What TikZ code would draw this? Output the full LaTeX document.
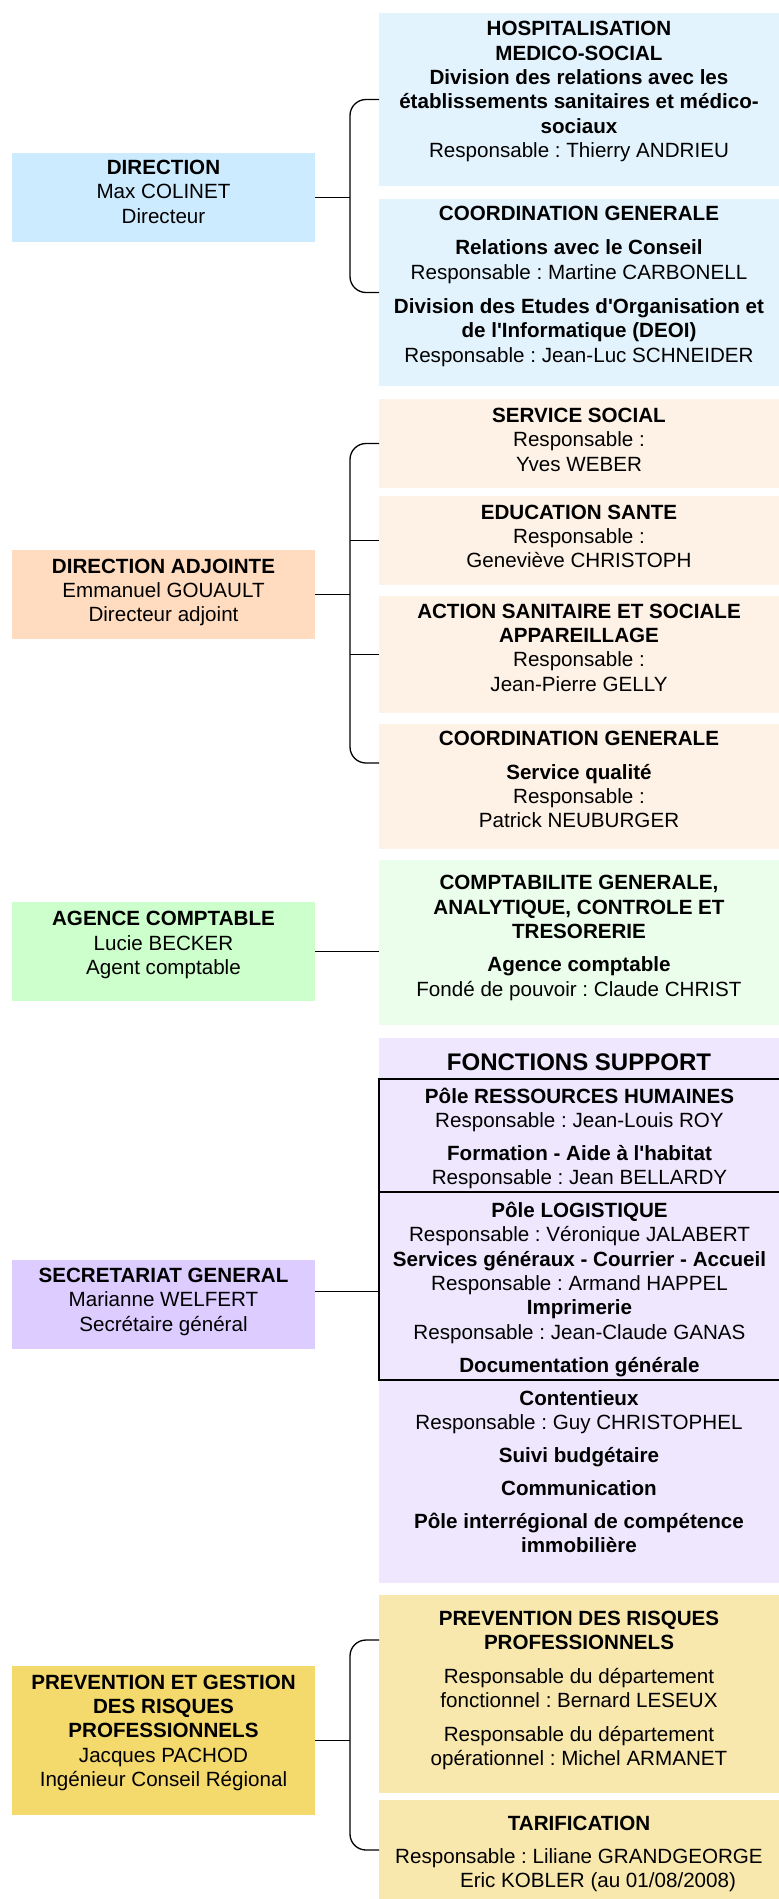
\documentclass[tikz,border=0pt]{standalone}
\usepackage{fontspec}
\newfontfamily\orgfont{Liberation Sans}
\usetikzlibrary{positioning}

\definecolor{dirL}{HTML}{CCEBFF}
\definecolor{dirR}{HTML}{E3F3FE}
\definecolor{adjL}{HTML}{FFDCBF}
\definecolor{adjR}{HTML}{FEF1E6}
\definecolor{cptL}{HTML}{CCFFCC}
\definecolor{cptR}{HTML}{EBFDEB}
\definecolor{secL}{HTML}{DCCCFF}
\definecolor{secR}{HTML}{EEE7FE}
\definecolor{prvL}{HTML}{F4D96C}
\definecolor{prvR}{HTML}{F8E8AE}

\newcommand{\boxtext}[3]{\parbox[c][#2pt][t]{#1pt}{\centering\strut #3}}
\frenchspacing

\begin{document}
\begin{tikzpicture}
[x=1pt,y=-1pt,
orgbox/.style={fill=#1,anchor=north west,inner xsep=0pt,outer sep=0pt,font=\orgfont\fontsize{20.6pt}{24.3pt}\selectfont},
link/.style={line width=1.3pt},
brace/.style={link,rounded corners=16pt}]
\useasboundingbox (0,0) rectangle (779,1899);
\coordinate (spine) at (350,0);
\node[orgbox=dirL,inner ysep=4.5pt] (dir) at (12,153) {\boxtext{303}{80}{\textbf{DIRECTION}\\ Max COLINET\\ Directeur}};
\node[orgbox=dirR,inner ysep=5.8pt] (hosp) at (379,13) {\boxtext{400}{161.4}{\textbf{HOSPITALISATION}\\ \textbf{MEDICO-SOCIAL}\\ \textbf{Division des relations avec les}\\ \textbf{établissements sanitaires et médico-}\\ \textbf{sociaux}\\ Responsable : Thierry ANDRIEU}};
\node[orgbox=dirR,inner ysep=4.5pt] (coordA) at (379,199) {\boxtext{400}{178}{\textbf{COORDINATION GENERALE}\\[10pt] \textbf{Relations avec le Conseil}\\ Responsable : Martine CARBONELL\\[10pt] \textbf{Division des Etudes d'Organisation et}\\ \textbf{de l'Informatique (DEOI)}\\ Responsable : Jean-Luc SCHNEIDER}};
\node[orgbox=adjL,inner ysep=6.2pt] (dirA) at (12,550) {\boxtext{303}{76.6}{\textbf{DIRECTION ADJOINTE}\\ Emmanuel GOUAULT\\ Directeur adjoint}};
\node[orgbox=adjR,inner ysep=6.5pt] (socl) at (379,399) {\boxtext{400}{76}{\textbf{SERVICE SOCIAL}\\ Responsable :\\ Yves WEBER}};
\node[orgbox=adjR,inner ysep=6.2pt] (educ) at (379,496) {\boxtext{400}{76.6}{\textbf{EDUCATION SANTE}\\ Responsable :\\ Geneviève CHRISTOPH}};
\node[orgbox=adjR,inner ysep=5.2pt] (action) at (379,596) {\boxtext{400}{106.6}{\textbf{ACTION SANITAIRE ET SOCIALE}\\ \textbf{APPAREILLAGE}\\ Responsable :\\ Jean-Pierre GELLY}};
\node[orgbox=adjR,inner ysep=4.5pt] (coordB) at (379,724) {\boxtext{400}{116}{\textbf{COORDINATION GENERALE}\\[9.4pt] \textbf{Service qualité}\\ Responsable :\\ Patrick NEUBURGER}};
\node[orgbox=cptL,inner ysep=6.8pt] (agence) at (12,902) {\boxtext{303}{85.4}{\textbf{AGENCE COMPTABLE}\\ Lucie BECKER\\ Agent comptable}};
\node[orgbox=cptR,inner ysep=12.8pt] (compta) at (379,860) {\boxtext{400}{139.4}{\textbf{COMPTABILITE GENERALE,}\\ \textbf{ANALYTIQUE, CONTROLE ET}\\ \textbf{TRESORERIE}\\[9pt] \textbf{Agence comptable}\\ Fondé de pouvoir : Claude CHRIST}};
\node[orgbox=secL,inner ysep=5.5pt] (secgen) at (12,1260) {\boxtext{303}{78}{\textbf{SECRETARIAT GENERAL}\\ Marianne WELFERT\\ Secrétaire général}};
\node[orgbox=secR,inner ysep=15.4pt] (fonc) at (379,1038) {\boxtext{400}{514.2}{\fontsize{24pt}{28pt}\selectfont\textbf{FONCTIONS SUPPORT}}};
\node[orgbox=secR,inner ysep=8.5pt] (divers) at (379,1380) {\boxtext{400}{186}{\textbf{Contentieux}\\ Responsable : Guy CHRISTOPHEL\\[8.5pt] \textbf{Suivi budgétaire}\\[8.5pt] \textbf{Communication}\\[8.5pt] \textbf{Pôle interrégional de compétence}\\ \textbf{immobilière}}};
\node[orgbox=secR,draw,line width=1.3pt,inner ysep=7.5pt] (rh) at (379,1079) {\boxtext{401}{98}{\textbf{Pôle RESSOURCES HUMAINES}\\ Responsable : Jean-Louis ROY\\[8pt] \textbf{Formation - Aide à l'habitat}\\ Responsable : Jean BELLARDY}};
\node[orgbox=secR,draw,line width=1.3pt,inner ysep=8.5pt] (logi) at (379,1192) {\boxtext{401}{171}{\textbf{Pôle LOGISTIQUE}\\ Responsable : Véronique JALABERT\\ \textbf{Services généraux - Courrier - Accueil}\\ Responsable : Armand HAPPEL\\ \textbf{Imprimerie}\\ Responsable : Jean-Claude GANAS\\[9pt] \textbf{Documentation générale}}};
\node[orgbox=prvL,inner ysep=6.2pt] (prevl) at (12,1666) {\boxtext{303}{136.6}{\textbf{PREVENTION ET GESTION}\\ \textbf{DES RISQUES}\\ \textbf{PROFESSIONNELS}\\ Jacques PACHOD\\ Ingénieur Conseil Régional}};
\node[orgbox=prvR,inner ysep=13.2pt] (prevr) at (379,1595) {\boxtext{400}{171.6}{\textbf{PREVENTION DES RISQUES}\\ \textbf{PROFESSIONNELS}\\[9.5pt] Responsable du département\\ fonctionnel : Bernard LESEUX\\[9.5pt] Responsable du département\\ opérationnel : Michel ARMANET}};
\node[orgbox=prvR,inner ysep=13.8pt] (tarif) at (379,1800) {\boxtext{400}{72.4}{\textbf{TARIFICATION}\\[8.4pt] Responsable : Liliane GRANDGEORGE\\ \hspace*{38pt}Eric KOBLER (au 01/08/2008)}};
\coordinate (adjEnd) at (379,763);
\coordinate (prvTop) at (379,1640);
\draw[brace] (hosp.west) -- (hosp.west -| spine) -- (coordA.west -| spine) -- (coordA.west);
\draw[brace] (socl.west) -- (socl.west -| spine) -- (adjEnd -| spine) -- (adjEnd);
\draw[brace] (prvTop) -- (prvTop -| spine) -- (tarif.west -| spine) -- (tarif.west);
\foreach \from in {dir,dirA,prevl}
\draw[link] (\from.east) -- (\from.east -| spine);
\foreach \to in {educ,action}
\draw[link] (\to.west) -- (\to.west -| spine);
\draw[link] (agence.east) -- (agence.east -| compta.west);
\draw[link] ([yshift=13pt]secgen.east) -- ([yshift=13pt]secgen.east -| fonc.west);
\end{tikzpicture}
\end{document}
